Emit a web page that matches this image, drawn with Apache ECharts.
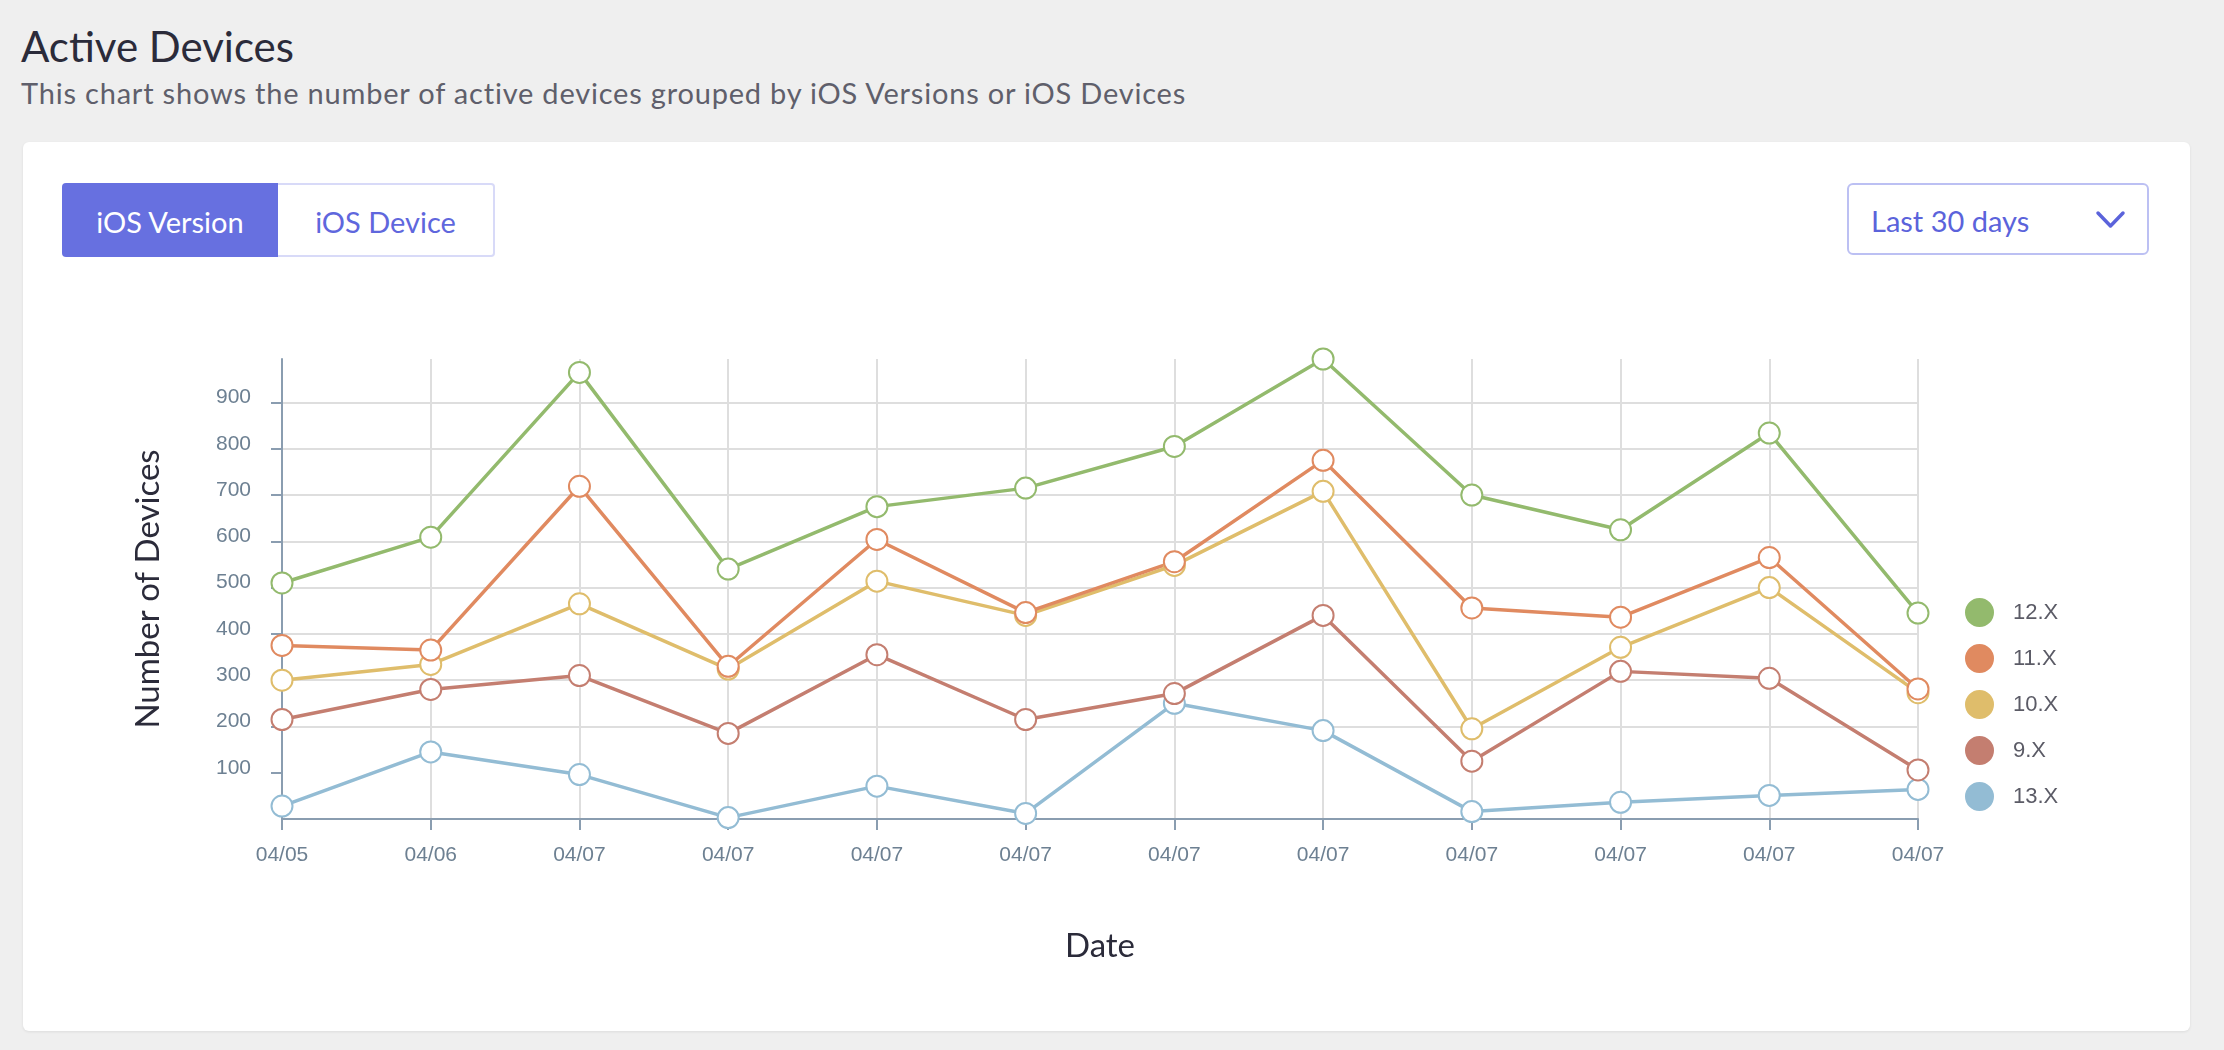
<!DOCTYPE html>
<html>
<head>
<meta charset="utf-8">
<script src="https://cdn.jsdelivr.net/npm/echarts@6/dist/echarts.min.js"></script>
<style>
  html, body { margin: 0; padding: 0; width: 2224px; height: 1050px; background: #efefef; overflow: hidden; font-family: Lato, "Noto Sans", sans-serif; }
  .title { position: absolute; left: 21px; top: 25px; font-size: 42px; line-height: 1; color: #2b2b3a; white-space: nowrap; }
  .subtitle { position: absolute; left: 21px; top: 78px; font-size: 29px; letter-spacing: 0.8px; line-height: 1; color: #5f5f6b; white-space: nowrap; }
  .card { position: absolute; left: 23px; top: 142px; width: 2167px; height: 889px; background: #fff; border-radius: 6px; box-shadow: 0 1px 3px rgba(0,0,0,0.08); }
  .btn { position: absolute; top: 183px; height: 74px; box-sizing: border-box; display: flex; align-items: center; justify-content: center; font-size: 29px; padding-top: 3px; }
  .btn1 { left: 62px; width: 216px; background: #6770e0; color: #fff; border-radius: 4px 0 0 4px; }
  .btn2 { left: 278px; width: 217px; background: #fff; color: #5f67dd; border: 2px solid #d8daf8; border-left: none; border-radius: 0 4px 4px 0; }
  .dd { position: absolute; left: 1847px; top: 183px; width: 302px; height: 72px; box-sizing: border-box; border: 2px solid #bcc0f3; border-radius: 6px; }
  .dd span { position: absolute; left: 22px; top: 0; line-height: 68px; font-size: 29px; color: #5b63db; padding-top: 2px; }
  .dd svg { position: absolute; left: 0; top: 0; }
  #chart { position: absolute; left: 0; top: 0; width: 2224px; height: 1050px; z-index: 2; }
</style>
</head>
<body>
<div class="title">Active Devices</div>
<div class="subtitle">This chart shows the number of active devices grouped by iOS Versions or iOS Devices</div>
<div class="card"></div>
<div class="btn btn1">iOS Version</div>
<div class="btn btn2">iOS Device</div>
<div class="dd"><span>Last 30 days</span>
  <svg width="302" height="72"><polyline points="249,28 261.5,41 274,28" fill="none" stroke="#5b63db" stroke-width="3.5" stroke-linecap="round" stroke-linejoin="round"/></svg>
</div>
<div id="chart"></div>
<script>
const categories = ['04/05','04/06','04/07','04/07','04/07','04/07','04/07','04/07','04/07','04/07','04/07','04/07'];
const seriesNames = ['12.X','11.X','10.X','9.X','13.X'];
const v12 = [510, 609, 965, 540, 675, 715, 805, 994, 700, 625, 834, 445];
const v11 = [375, 365, 719, 330, 604, 446, 556, 775, 456, 436, 565, 281];
const v10 = [300, 334, 465, 324, 514, 440, 548, 708, 195, 371, 500, 273];
const v9  = [215, 280, 310, 185, 355, 215, 271, 440, 125, 319, 304, 106];
const v13 = [28, 145, 96, 3, 71, 12, 250, 191, 16, 36, 51, 64];
const yTickValues = [100, 200, 300, 400, 500, 600, 700, 800, 900];
const colors = {'12.X':'#93ba6d','11.X':'#e08a60','10.X':'#dfbd6b','9.X':'#c47e70','13.X':'#93bcd4'};
const valuesByName = {'12.X': v12, '11.X': v11, '10.X': v10, '9.X': v9, '13.X': v13};

const axisColor = '#8a9db0';
const labelColor = '#6d8092';
const drawOrder = ['13.X','9.X','10.X','11.X','12.X'];
const series = drawOrder.map(name => ({
  name: name,
  type: 'line',
  data: valuesByName[name],
  symbol: 'emptyCircle',
  symbolSize: 21,
  lineStyle: { width: 3.5, color: colors[name] },
  itemStyle: { color: colors[name], borderWidth: 4, borderColor: colors[name] },
  emphasis: { disabled: true },
  animation: false
}));

const chart = echarts.init(document.getElementById('chart'), null, { renderer: 'canvas' });
chart.setOption({
  backgroundColor: 'transparent',
  animation: false,
  grid: { left: 282, right: 306, top: 359, bottom: 231, containLabel: false },
  legend: {
    orient: 'vertical',
    left: 1960,
    top: 593,
    data: seriesNames.map(n => ({ name: n, icon: 'circle', itemStyle: { color: colors[n] } })),
    itemWidth: 27,
    itemHeight: 27,
    itemGap: 17,
    selectedMode: false,
    textStyle: { fontFamily: 'Liberation Sans', fontSize: 22, color: '#5b5b66', padding: [0, 0, 0, 15] }
  },
  xAxis: {
    type: 'category',
    data: categories,
    boundaryGap: false,
    name: 'Date',
    nameLocation: 'middle',
    nameGap: 111,
    nameTextStyle: { fontFamily: 'Lato', fontSize: 33, color: '#2b2b3a' },
    axisLine: { lineStyle: { color: axisColor, width: 2 } },
    axisTick: { show: true, length: 11, alignWithLabel: true, lineStyle: { color: axisColor, width: 2 } },
    axisLabel: { fontFamily: 'Liberation Sans', fontSize: 21, color: labelColor, margin: 26, interval: 0 },
    splitLine: { show: true, lineStyle: { color: '#dedede', width: 2 } }
  },
  yAxis: {
    type: 'value',
    min: 0,
    max: 'dataMax',
    interval: 100,
    name: 'Number of Devices',
    nameLocation: 'middle',
    nameRotate: 90,
    nameGap: 117,
    nameTextStyle: { fontFamily: 'Lato', fontSize: 33, color: '#2b2b3a' },
    axisLine: { show: true, lineStyle: { color: axisColor, width: 2 } },
    axisTick: { show: true, length: 11, customValues: yTickValues, lineStyle: { color: axisColor, width: 2 } },
    axisLabel: { customValues: yTickValues, fontFamily: 'Liberation Sans', fontSize: 21, lineHeight: 10, verticalAlign: 'bottom', color: labelColor, margin: 31 },
    splitLine: { show: true, lineStyle: { width: 2, color: ['rgba(0,0,0,0)','#dedede','#dedede','#dedede','#dedede','#dedede','#dedede','#dedede','#dedede','#dedede','rgba(0,0,0,0)'] } }
  },
  series: series
});
</script>
</body>
</html>
